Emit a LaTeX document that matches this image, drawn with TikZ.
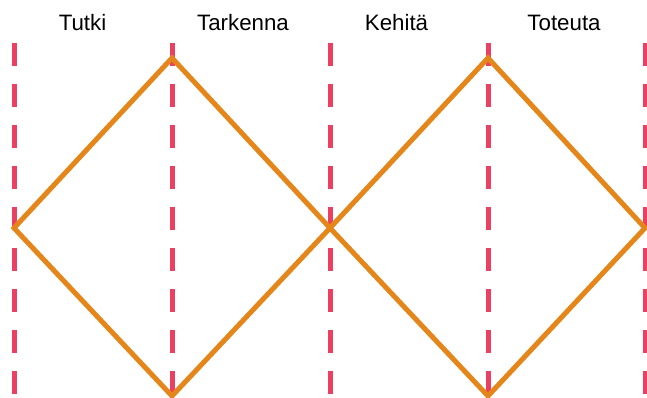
\documentclass[tikz,border=0pt]{standalone}
\usepackage{fontspec}
\setmainfont{Liberation Sans}
\definecolor{dashred}{HTML}{EC4062}
\definecolor{diaorange}{HTML}{E5861A}
\begin{document}
\begin{tikzpicture}[x=1pt,y=-1pt,
  guide/.style={draw=dashred,line width=5pt,dash pattern=on 23pt off 18pt},
  wave/.style={draw=diaorange,line width=5pt,line join=miter},
  phase/.style={font=\fontsize{22.3}{26}\selectfont,anchor=base,inner sep=0pt}]
\useasboundingbox (0,0) rectangle (647,397);
% guides
\foreach \i/\x in {1/14,2/172,3/330,4/488,5/645}{
  \coordinate (g\i t) at (\x,43);
  \coordinate (g\i b) at (\x,400);
  \draw[guide] (g\i t) -- (g\i b);
}
% diamonds
\coordinate (L) at (14,228);
\coordinate (T1) at (172,58);
\coordinate (M) at (330,228);
\coordinate (B1) at (172,396);
\coordinate (T2) at (488,58);
\coordinate (R) at (645,228);
\coordinate (B2) at (488,396);
\draw[wave] (L) -- (T1) -- (M) -- (B1) -- cycle;
\draw[wave] (M) -- (T2) -- (R) -- (B2) -- cycle;
% labels
\node[phase] (l1) at (82.5,30) {Tutki};
\node[phase] (l2) at (243,30) {Tarkenna};
\node[phase] (l3) at (396.5,30) {Kehitä};
\node[phase] (l4) at (564,30) {Toteuta};
\end{tikzpicture}
\end{document}
